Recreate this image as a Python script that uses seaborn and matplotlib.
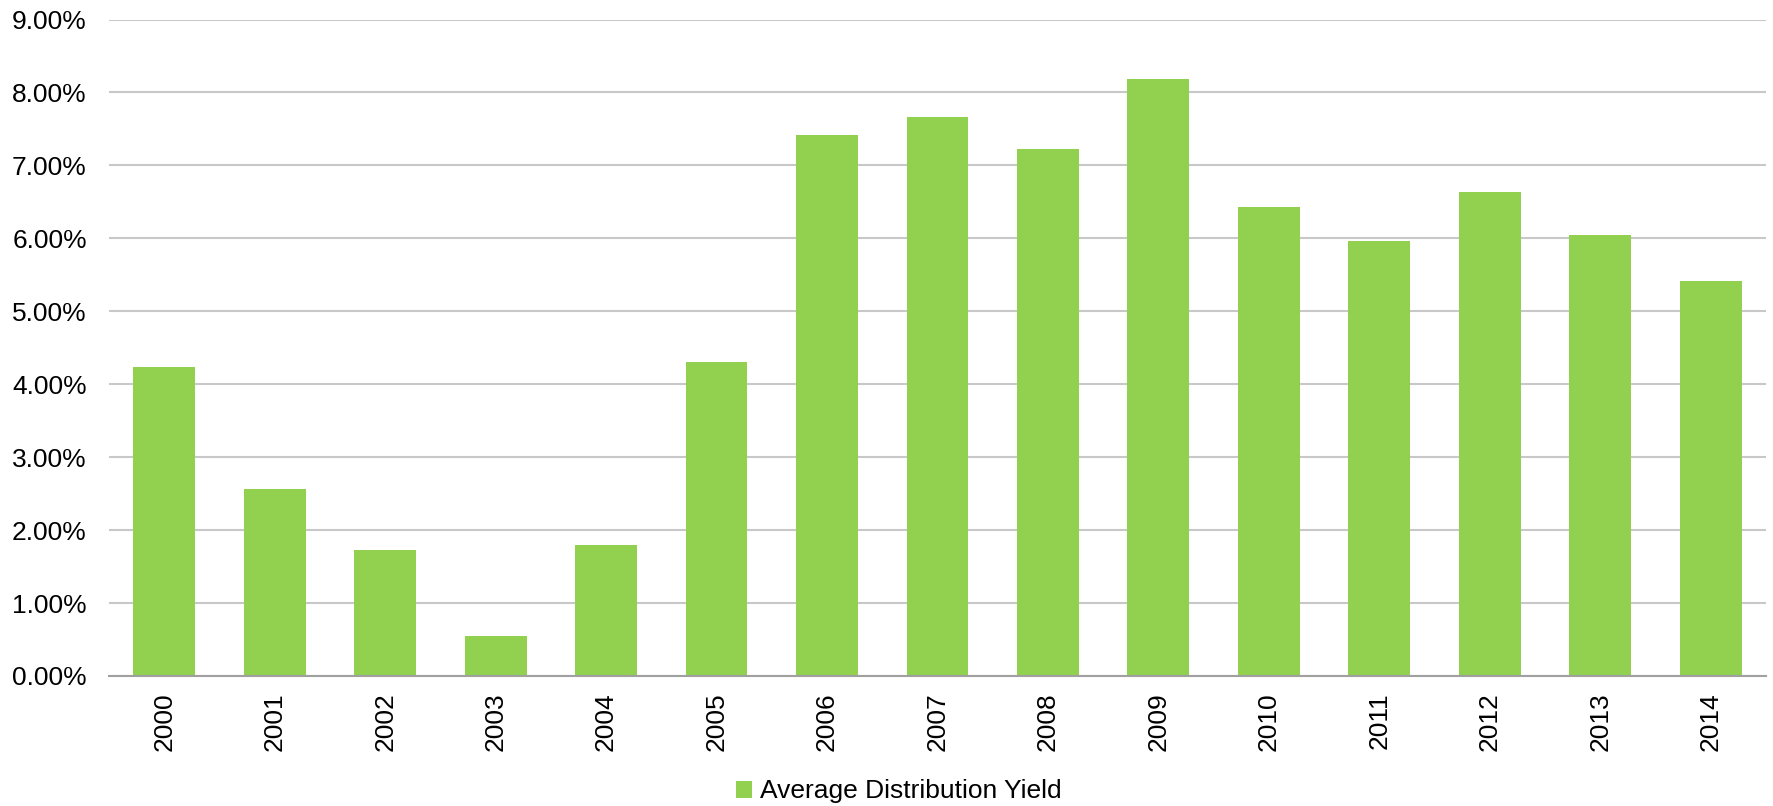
import matplotlib
matplotlib.use("Agg")
import matplotlib.pyplot as plt
import seaborn as sns
import pandas as pd
from matplotlib.ticker import FuncFormatter, MultipleLocator
from matplotlib.patches import Patch

years = ["2000", "2001", "2002", "2003", "2004", "2005", "2006", "2007",
         "2008", "2009", "2010", "2011", "2012", "2013", "2014"]
yield_pct = [4.24, 2.57, 1.73, 0.545, 1.79, 4.30, 7.41, 7.66,
             7.22, 8.18, 6.43, 5.96, 6.63, 6.05, 5.41]
series_name = "Average Distribution Yield"

df = pd.DataFrame({"Year": years, "Yield": yield_pct})

sns.set_theme(style="white")
plt.rcParams["font.family"] = ["Liberation Sans", "DejaVu Sans"]
plt.rcParams["text.color"] = "black"

bar_color = "#92D050"

fig = plt.figure(figsize=(17.73, 8.06), dpi=100)
ax = fig.add_axes([0.0615, 0.1613, 0.9345, 0.8145])

sns.barplot(data=df, x="Year", y="Yield", color=bar_color, width=0.56,
            saturation=1, ax=ax, edgecolor="none", zorder=3)

ax.set_ylim(0, 9)
ax.set_xlim(-0.5, len(years) - 0.5)
ax.yaxis.set_major_locator(MultipleLocator(1))
ax.yaxis.set_major_formatter(FuncFormatter(lambda v, p: f"{v:.2f}%"))
ax.grid(axis="y", color="#C8C8C8", linewidth=1.5, zorder=0)
ax.grid(axis="x", visible=False)
ax.set_axisbelow(True)

for s in ["top", "right", "left"]:
    ax.spines[s].set_visible(False)
ax.spines["bottom"].set_color("#A0A0A0")
ax.spines["bottom"].set_linewidth(1.5)
ax.spines["bottom"].set_zorder(4)

ax.tick_params(axis="both", length=0, labelsize=19, colors="black")
ax.tick_params(axis="y", pad=16)
ax.tick_params(axis="x", pad=12, labelrotation=90)
ax.set_xlabel("")
ax.set_ylabel("")

handles = [Patch(facecolor=bar_color, edgecolor="none", label=series_name)]
fig.legend(handles=handles, loc="center", bbox_to_anchor=(0.507, 0.018),
           frameon=False, fontsize=19, handlelength=0.6, handleheight=0.6,
           handletextpad=0.3, labelcolor="black")

fig.savefig("out.png", dpi=100)
